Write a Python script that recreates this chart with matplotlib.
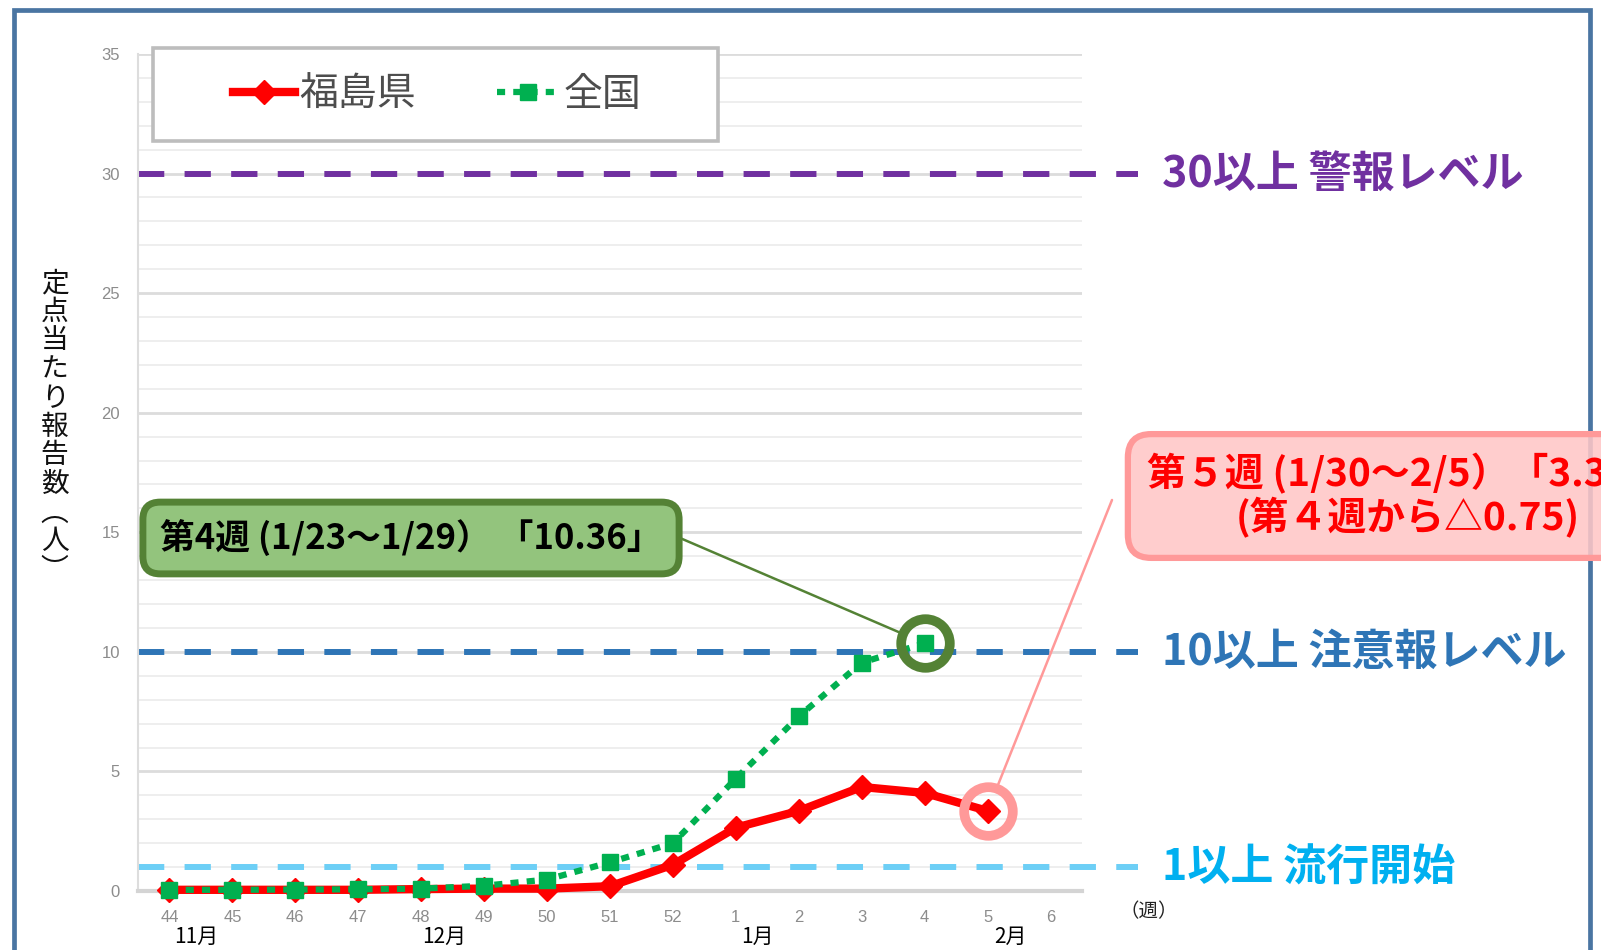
import matplotlib
matplotlib.use('Agg')
import matplotlib.pyplot as plt
import matplotlib.transforms as mtransforms
from matplotlib.patches import Rectangle

plt.rcParams['font.family'] = ['Noto Sans CJK JP', 'DejaVu Sans']

# ---------------- data ----------------
weeks = ['44', '45', '46', '47', '48', '49', '50', '51', '52', '1', '2', '3', '4', '5', '6']
fukushima = [0.05, 0.05, 0.05, 0.05, 0.08, 0.1, 0.1, 0.2, 1.1, 2.65, 3.35, 4.35, 4.10, 3.35]
national = [0.05, 0.05, 0.06, 0.07, 0.1, 0.22, 0.48, 1.2, 2.0, 4.7, 7.3, 9.55, 10.36]
series_names = ['福島県', '全国']
level_values = [30, 10, 1]
level_labels = ['30以上 警報レベル', '10以上 注意報レベル', '1以上 流行開始']
level_text_colors = ['#7030a0', '#2e75b6', '#00b0f0']
level_line_colors = ['#7030a0', '#2e75b6', '#6dcff6']
month_labels = ['11月', '12月', '1月', '2月']
month_pos = [0.42, 4.37, 9.34, 13.36]
ylabel_text = '定点当たり報告数︵人︶'
unit_text = '（週）'
green_note = '第4週 (1/23～1/29） 「10.36」'
red_note = '第５週 (1/30～2/5）「3.35」\n(第４週から△0.75)'

W, H = 1601, 950
def fx(px):
    return px / W
def fy(py):
    return 1 - py / H

fig = plt.figure(figsize=(W / 100, H / 100), dpi=100)
fig.patch.set_facecolor('white')

ax = fig.add_axes([fx(138), fy(891), (1082 - 138) / W, (891 - 54) / H])
ax.set_xlim(-0.5, len(weeks) - 0.5)
ax.set_ylim(0, 35)

# grid / spines
ax.set_yticks(range(0, 36, 5))
ax.set_yticks(range(0, 36), minor=True)
ax.grid(axis='y', which='major', color='#dcdcdc', lw=2)
ax.grid(axis='y', which='minor', color='#eeeeee', lw=1.4)
ax.set_axisbelow(True)
for s in ['top', 'right']:
    ax.spines[s].set_visible(False)
ax.spines['left'].set_color('#dddddd')
ax.spines['left'].set_linewidth(1.5)
ax.spines['bottom'].set_color('#d4d4d4')
ax.spines['bottom'].set_linewidth(3)

ax.set_xticks(range(len(weeks)))
ax.set_xticklabels(weeks)
ax.tick_params(axis='y', which='both', length=0, pad=13, labelsize=12, labelcolor='#8c8c8c')
ax.tick_params(axis='x', which='both', length=0, pad=14, labelsize=12, labelcolor='#8c8c8c')
for lab in ax.get_yticklabels() + ax.get_xticklabels():
    lab.set_family(['Liberation Sans Narrow', 'Liberation Sans', 'DejaVu Sans'])

# level lines
ytr = ax.get_yaxis_transform()
for v, lab, tc, lc in zip(level_values, level_labels, level_text_colors, level_line_colors):
    ax.plot([0, 1.059], [v, v], transform=ytr, color=lc, lw=4.3, dashes=(4.4, 3.4),
            dash_capstyle='butt', clip_on=False, zorder=2)
    ax.text(1.085, v, lab, transform=ytr, color=tc, fontsize=31, fontweight='bold',
            ha='left', va='center', clip_on=False)

# series
x_f = list(range(len(fukushima)))
x_n = list(range(len(national)))
red_line, = ax.plot(x_f, fukushima, color='#ff0000', lw=6, marker='D', ms=12,
                    solid_joinstyle='round', zorder=4, clip_on=False)
green_line, = ax.plot(x_n, national, color='#00b050', lw=4.5, dashes=(1.3, 1.3),
                      dash_capstyle='butt', marker='s', ms=11, zorder=5, clip_on=False)

# highlight circles
i4 = weeks.index('4')
i5 = weeks.index('5')
ax.plot([i4], [national[i4]], marker='o', ms=35, mfc='none', mec='#548235', mew=7,
        zorder=6, clip_on=False)
ax.plot([i5], [fukushima[i5]], marker='o', ms=35, mfc='none', mec='#ff9999', mew=7,
        zorder=6, clip_on=False)

# connectors
ax.annotate('', xy=(i4, national[i4]), xycoords='data',
            xytext=(fx(680), fy(538)), textcoords='figure fraction',
            arrowprops=dict(arrowstyle='-', color='#548235', lw=1.8, shrinkA=0, shrinkB=20),
            zorder=6)
ax.annotate('', xy=(i5, fukushima[i5]), xycoords='data',
            xytext=(fx(1112), fy(500)), textcoords='figure fraction',
            arrowprops=dict(arrowstyle='-', color='#ff9999', lw=1.8, shrinkA=0, shrinkB=20),
            zorder=6)

# month labels
mtr = mtransforms.blended_transform_factory(ax.transData, fig.transFigure)
for p, m in zip(month_pos, month_labels):
    ax.text(p, fy(937), m, transform=mtr, ha='center', va='center', fontsize=15,
            color='black', clip_on=False)
fig.text(fx(1149), fy(912), unit_text, ha='center', va='center', fontsize=14, color='#222222')

# y label (vertical writing)
for i, ch in enumerate(ylabel_text):
    fig.text(fx(54.5), fy(283 + i * 28.7), ch, ha='center', va='center', fontsize=20,
             color='#111111')

# outer border
fig.add_artist(Rectangle((fx(14), -0.05), fx(1590) - fx(14), fy(10) + 0.05,
                         transform=fig.transFigure, fill=False, ec='#4a75a2', lw=3.4, zorder=1))

# legend frame + legend
fig.add_artist(Rectangle((fx(153), fy(141)), (718 - 153) / W, (141 - 48) / H,
                         transform=fig.transFigure, fc='white', ec='#bdbdbd', lw=2.6, zorder=2))
fig.legend(handles=[red_line, green_line], labels=series_names, loc='center',
           bbox_to_anchor=(fx(437), fy(95)), ncol=2, frameon=False, fontsize=28,
           handlelength=1.6, handletextpad=0.1, columnspacing=2.1, labelcolor='#4d4d4d')

# annotation boxes
fig.text(fx(411), fy(538), green_note, ha='center', va='center', fontsize=25,
         fontweight='bold', color='black', zorder=7,
         bbox=dict(boxstyle='round,pad=0.5,rounding_size=0.5', fc='#93c47d', ec='#548235', lw=5))
fig.text(fx(1408), fy(496), red_note, ha='center', va='center', multialignment='center',
         fontsize=28, fontweight='bold', color='#ff0000', linespacing=1.08, zorder=7,
         bbox=dict(boxstyle='round,pad=0.5,rounding_size=0.6', fc=(1, 0.78, 0.78, 0.88),
                   ec='#ff9999', lw=4.5))

fig.savefig('out.png', dpi=100)
